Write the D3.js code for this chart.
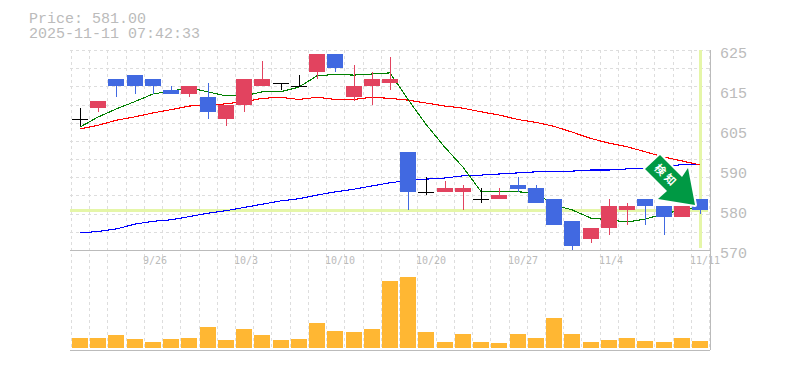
<!DOCTYPE html>
<html>
<head>
<meta charset="utf-8">
<script src="https://cdn.jsdelivr.net/npm/d3@7"></script>
<style>
  html, body { margin: 0; padding: 0; background: #fff; }
  text { font-family: "Liberation Mono", monospace; fill: #bbb; }
</style>
</head>
<body>
<div id="content"></div>
<script>
// DATA
const priceText = "Price: 581.00";
const timeText = "2025-11-11 07:42:33";
const lastPrice = 581;

const opens = [606, 609, 617, 618, 617, 614, 613, 612, 606, 610, 615, 616, 615, 619, 624, 612, 615, 616, 597, 586, 586, 586, 584, 584, 588, 587, 584, 578, 573, 576, 581, 584, 582, 579, 584];
const closes = [606, 611, 615, 615, 615, 613, 615, 608, 610, 617, 617, 616, 615, 624, 620, 615, 617, 617, 586, 586, 587, 587, 584, 585, 586.7, 583, 577, 571, 576, 582, 582, 582, 579, 582, 581];
const highs = [609, 611, 617, 618, 617, 615, 615, 616, 610, 617, 622, 616, 618, 624, 624, 621, 619, 623, 597, 590, 589, 588, 587, 587, 590, 588, 584, 578, 576, 584, 583, 584, 582, 582, 584];
const lows = [604, 608, 612, 613, 613, 613, 612, 606, 604, 608, 615, 614, 615, 617, 619, 611, 610, 614, 581, 585, 586, 581, 583, 584, 586, 583, 577, 570, 572, 574, 577, 577, 574, 579, 580];
const volumes = [10, 10, 13, 9, 6, 9, 10, 21, 8, 19, 13, 8, 9, 25, 17, 16, 19, 67, 71, 16, 6, 14, 6, 5, 14, 10, 30, 14, 6, 8, 10, 7, 6, 10, 7];

const maShort = [603.8, 606.6, 608.8, 610.8, 612.9, 613.7, 614.6, 613.5, 612.4, 612.4, 613.5, 613.5, 614.8, 617.9, 618.3, 618.1, 618.4, 618.7, 611.3, 604.4, 598.3, 592.8, 586, 586, 586, 585.7, 582.4, 581, 578.8, 578.3, 577.7, 578.5, 579.9, 581, 581.6];
const maMid = [603.3, 604.3, 605.7, 606.6, 607.7, 608.6, 609.6, 609.8, 610.2, 610.8, 611.7, 612, 611.4, 612, 611.4, 611.4, 612, 611.7, 611.2, 610.4, 609.6, 609, 608, 607.1, 605.9, 605.1, 604, 602.4, 600.7, 599.4, 598.4, 597, 595.6, 594.5, 593.4];
const maLong = [574.7, 575.1, 575.8, 577.1, 577.9, 578.3, 579.2, 580.1, 580.8, 581.7, 582.6, 583.5, 584.1, 585.1, 586, 586.7, 587.6, 588.5, 589.1, 589.5, 589.8, 590.4, 590.6, 590.9, 591.2, 591.5, 591.7, 591.7, 592, 592, 592.3, 592.5, 592.8, 593.5, 593.6];

const gridPrices = [570, 575, 580, 585, 590, 595, 600, 605, 610, 615, 620, 625];
const tickPrices = [570, 581, 592, 603, 614, 625];
const tickLabels = ["570", "580", "590", "605", "615", "625"];
const dateIndex = [4, 9, 14, 19, 24, 29, 34];
const dateLabels = ["9/26", "10/3", "10/10", "10/20", "10/27", "11/4", "11/11"];

// arrow outline, measured from its tip
const arrowShape = [[0, 0], [-37, -6], [-28, -14], [-50, -36], [-35, -50], [-13, -28], [-7, -37]];

const width = 785, height = 370;
const left = 70, right = 710, slot = 620 / 34;

const x = d3.scaleLinear().domain([0, 34]).range([80, 700]);
const y = d3.scaleLinear().domain([570, 625]).range([250, 50]);
const yVol = d3.scaleLinear().domain([0, 100]).range([348, 248]);
const px = (i) => Math.round(x(i));
const py = (v) => Math.round(y(v));

const upColor = "#e2435f", downColor = "#4169e1", flatColor = "#000";
const candleColor = (i) => closes[i] > opens[i] ? upColor : closes[i] < opens[i] ? downColor : flatColor;

const svg = d3.select("#content").append("svg")
  .attr("width", width).attr("height", height)
  .style("display", "block");

// Grid
const grid = svg.append("g")
  .attr("stroke", "#ddd").attr("stroke-dasharray", "3,3").attr("shape-rendering", "crispEdges");
grid.selectAll("line.h").data(gridPrices).join("line").attr("class", "h")
  .attr("x1", left).attr("x2", right).attr("y1", py).attr("y2", py);
grid.selectAll("line.v").data(d3.range(36)).join("line").attr("class", "v")
  .attr("x1", (d) => Math.round(x(d) - slot / 2)).attr("x2", (d) => Math.round(x(d) - slot / 2))
  .attr("y1", 50).attr("y2", 350);

// Current price / time highlight
svg.append("line")
  .attr("x1", left).attr("x2", 708).attr("y1", y(lastPrice)).attr("y2", y(lastPrice))
  .attr("stroke", "#e5f6a8").attr("stroke-width", 3).attr("shape-rendering", "crispEdges");
svg.append("line")
  .attr("x1", px(34)).attr("x2", px(34)).attr("y1", 50).attr("y2", 248)
  .attr("stroke", "#e5f6a8").attr("stroke-width", 3).attr("shape-rendering", "crispEdges");

// Frame
const frame = svg.append("g").attr("stroke", "#bbb").attr("shape-rendering", "crispEdges");
frame.append("line").attr("x1", left).attr("x2", right).attr("y1", 250).attr("y2", 250);
frame.append("line").attr("x1", left).attr("x2", right).attr("y1", 350).attr("y2", 350);
frame.append("line").attr("x1", right).attr("x2", right).attr("y1", 50).attr("y2", 350);

// Volume
svg.append("g").selectAll("rect").data(volumes).join("rect")
  .attr("x", (d, i) => px(i) - 8)
  .attr("width", 16)
  .attr("y", (d) => yVol(d))
  .attr("height", (d) => yVol(0) - yVol(d))
  .attr("fill", "#ffb733")
  .attr("shape-rendering", "crispEdges");

// Averages sit under the candles
function drawLine(values, color) {
  const line = d3.line().x((d, i) => x(i)).y((d) => y(d));
  svg.append("path")
    .attr("d", line(values))
    .attr("fill", "none")
    .attr("stroke", color)
    .attr("stroke-width", 1.1)
    .attr("shape-rendering", "crispEdges");
}
drawLine(maLong, "#00f");
drawLine(maMid, "#f00");
drawLine(maShort, "#008000");

// Candles
const candles = svg.append("g").attr("shape-rendering", "crispEdges");
candles.selectAll("line.wick").data(opens).join("line").attr("class", "wick")
  .attr("x1", (d, i) => px(i)).attr("x2", (d, i) => px(i))
  .attr("y1", (d, i) => py(highs[i])).attr("y2", (d, i) => py(lows[i]))
  .attr("stroke", (d, i) => candleColor(i));
candles.selectAll("rect").data(opens).join("rect")
  .attr("x", (d, i) => px(i) - 8)
  .attr("width", 16)
  .attr("y", (d, i) => py(Math.max(d, closes[i])))
  .attr("height", (d, i) => Math.max(py(Math.min(d, closes[i])) - py(Math.max(d, closes[i])), 1))
  .attr("fill", (d, i) => candleColor(i));

// Arrow badge
const arrow = svg.append("g")
  .attr("transform", `translate(${x(34) - 5},${y(lastPrice) - 5})`);
arrow.append("path")
  .attr("d", d3.line()(arrowShape) + "Z")
  .attr("fill", "#009944")
  .attr("stroke", "#fff")
  .attr("stroke-width", 4)
  .attr("stroke-linejoin", "round")
  .attr("paint-order", "stroke");
arrow.append("text")
  .attr("transform", "translate(-28,-30) rotate(45)")
  .attr("text-anchor", "middle")
  .attr("dominant-baseline", "central")
  .style("font-family", '"Noto Sans CJK JP"')
  .style("font-size", "11px")
  .style("font-weight", "700")
  .style("letter-spacing", "3px")
  .style("fill", "#fff")
  .text("検知");

// Texts
svg.append("text").attr("x", 29).attr("y", 23).style("font-size", "15px").text(priceText);
svg.append("text").attr("x", 29).attr("y", 38).style("font-size", "15px").text(timeText);

svg.append("g").selectAll("text").data(tickPrices).join("text")
  .attr("x", 720)
  .attr("y", (d) => y(d) + 8)
  .style("font-size", "15px")
  .text((d, i) => tickLabels[i]);

svg.append("g").selectAll("text").data(dateIndex).join("text")
  .attr("x", (d) => Math.round(x(d) - slot / 2) - 1)
  .attr("y", 264)
  .style("font-family", '"DejaVu Sans Mono", monospace')
  .style("font-size", "10px")
  .text((d, i) => dateLabels[i]);
</script>
</body>
</html>
